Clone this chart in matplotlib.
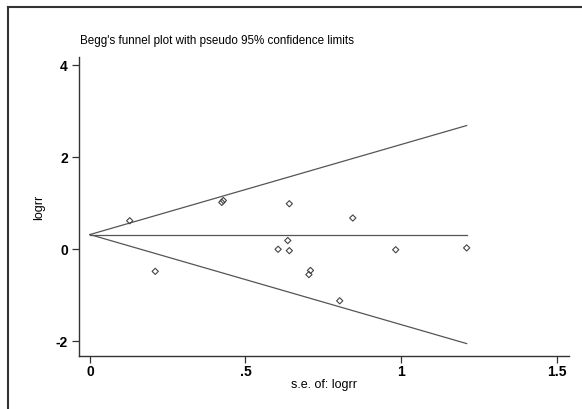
import numpy as np
import matplotlib.pyplot as plt
from matplotlib.lines import Line2D

# Study estimates
se = [0.128, 0.21, 0.424, 0.429, 0.641, 0.845, 0.636, 0.605, 0.641,
      0.709, 0.704, 0.803, 0.983, 1.211]
logrr = [0.61, -0.49, 1.01, 1.05, 0.98, 0.67, 0.18, -0.01, -0.04,
         -0.47, -0.56, -1.13, -0.02, 0.02]

# Pooled estimate and pseudo 95% limits
line_se = [0.0, 1.211]
pooled = [0.31, 0.31]
upper = [0.31, 2.68]
lower = [0.31, -2.06]

plt.rcParams['font.family'] = ['Liberation Sans', 'DejaVu Sans']

fig = plt.figure(figsize=(5.82, 4.10), dpi=100)
ax = fig.add_axes([79 / 582, 1 - 357 / 410, 490 / 582, 299 / 410])

lc = "#555555"
ax.plot(line_se, upper, color=lc, lw=0.9)
ax.plot(line_se, lower, color=lc, lw=0.9)
ax.plot(line_se, pooled, color=lc, lw=0.9)
ax.scatter(se, logrr, marker="D", s=10, facecolors="none",
           edgecolors="#444444", linewidths=0.8, zorder=3)

ax.set_xlim(-0.035, 1.54)
ax.set_ylim(-2.33, 4.17)
ax.set_xticks([0, 0.5, 1, 1.5])
ax.set_xticklabels(["0", ".5", "1", "1.5"])
ax.set_yticks([-2, 0, 2, 4])
ax.set_yticklabels(["-2", "0", "2", "4"])

for s in ["top", "right"]:
    ax.spines[s].set_visible(False)
for s in ["left", "bottom"]:
    ax.spines[s].set_color("#333333")
    ax.spines[s].set_linewidth(1.0)
ax.tick_params(direction="out", length=5, width=0.9, color="#333333",
               labelsize=10)
ax.tick_params(axis="x", pad=1)
ax.tick_params(axis="y", pad=3)
for lab in ax.get_xticklabels() + ax.get_yticklabels():
    lab.set_fontweight("bold")

ax.set_xlabel("s.e. of: logrr", fontsize=9, labelpad=-0.5)
ax.set_ylabel("logrr", fontsize=9, labelpad=7.5)
fig.text(80 / 582, 1 - 41 / 410, "Begg's funnel plot with pseudo 95% confidence limits",
         fontsize=8.4, va="center", ha="left")

# outer frame (left and top edges)
fig.add_artist(Line2D([8 / 582, 8 / 582], [0, 1 - 8 / 410], color="#333333", lw=1.5,
                      transform=fig.transFigure))
fig.add_artist(Line2D([8 / 582, 1], [1 - 8 / 410, 1 - 8 / 410], color="#333333", lw=1.5,
                      transform=fig.transFigure))

fig.savefig("out.png", dpi=100)
